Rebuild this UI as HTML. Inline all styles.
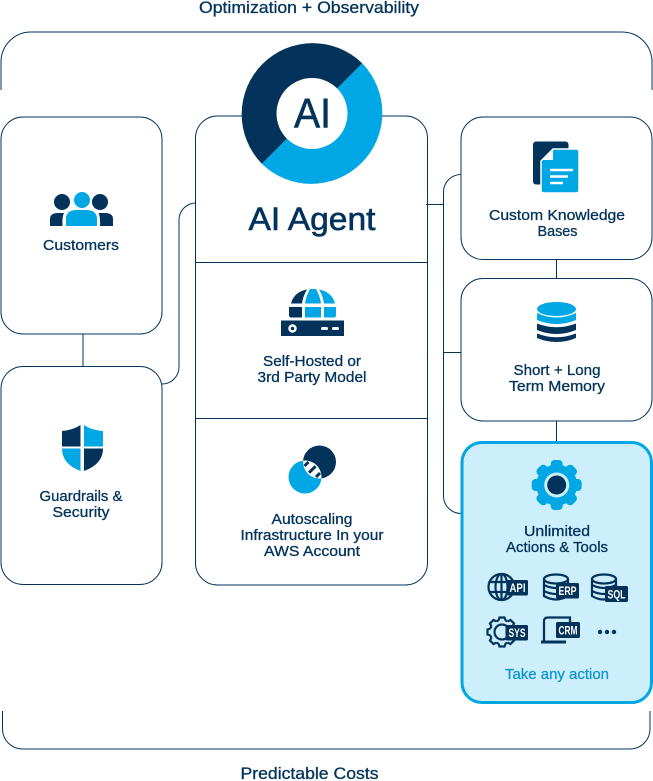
<!DOCTYPE html>
<html><head><meta charset="utf-8"><style>
html,body{margin:0;padding:0;background:#fff}
svg{display:block}
text{font-family:"Liberation Sans",sans-serif;fill:#03335b;stroke:#03335b;stroke-width:.3px;text-anchor:middle}
.t{font-size:14.5px}
.l{font-size:12px;font-weight:bold;fill:#fff;stroke:none}
</style></head><body>
<svg width="653" height="781" viewBox="0 0 653 781" xmlns="http://www.w3.org/2000/svg">
<g fill="none" stroke="#03335b" stroke-width="1">
<path d="M1 90V62A30 30 0 0 1 31 32H622A30 30 0 0 1 652 62V90"/>
<path d="M2.5 711V729A20 20 0 0 0 22.5 749H630A20 20 0 0 0 650 729V711"/>
<path d="M83 334V367"/>
<path d="M162 384A17 17 0 0 0 179 367V220A17 17 0 0 1 196 203"/>
<path d="M426 204.5H443.5M461 174.5A17.5 17.5 0 0 0 443.5 192V496A17.5 17.5 0 0 0 461 513.5M443.5 352.5H461"/>
<path d="M556.5 259V279M556.5 421V442"/>
<rect x="1" y="117" width="161" height="217" rx="22"/>
<rect x="1" y="366.5" width="161" height="218" rx="22"/>
<rect x="195.5" y="116" width="232" height="469" rx="22"/>
<path d="M195.5 262.5H427.5M195.5 418.5H427.5"/>
<rect x="461" y="117" width="191" height="142.5" rx="22"/>
<rect x="461" y="278.5" width="191" height="142.5" rx="22"/>
</g>
<rect x="462" y="442.5" width="189.5" height="260" rx="20" fill="#cdeefb" stroke="#00a7e5" stroke-width="3"/>

<!-- donut -->
<path d="M362.2 63.3A71 71 0 0 1 261.8 163.7L312 113.5Z" fill="#00a7e5"/>
<path d="M362.2 63.3A71 71 0 0 0 261.8 163.7L312 113.5Z" fill="#03335b"/>
<circle cx="312" cy="113.5" r="35.5" fill="#fff"/>
<text x="312.5" y="127.5" font-size="42" textLength="37" lengthAdjust="spacingAndGlyphs" style="stroke-width:.6px">AI</text>
<text x="312" y="230" font-size="32" textLength="127" lengthAdjust="spacingAndGlyphs" style="stroke-width:.6px">AI Agent</text>

<text x="309" y="13" font-size="16.5" textLength="220" lengthAdjust="spacingAndGlyphs">Optimization + Observability</text>
<text x="309.5" y="779" font-size="16.5" textLength="138" lengthAdjust="spacingAndGlyphs">Predictable Costs</text>

<!-- customers -->
<circle cx="62" cy="202" r="8" fill="#03335b"/><circle cx="100" cy="202" r="8" fill="#03335b"/>
<path d="M50 226V219Q50 213 58 213H64Q62 217 62.5 226Z" fill="#03335b"/>
<path d="M113 226V219Q113 213 105 213H98.5Q100.5 217 100 226Z" fill="#03335b"/>
<circle cx="82" cy="200" r="8" fill="#00a7e5"/>
<path d="M66 226V219Q66 210 77 210H86Q97 210 97 219V226Z" fill="#00a7e5"/>
<text class="t" x="81" y="250" textLength="76" lengthAdjust="spacingAndGlyphs">Customers</text>

<!-- shield -->
<path d="M62 431Q73 430 80.5 425V446.5H62Z" fill="#03335b"/>
<path d="M84 425Q91 430 103 431V446.5H84Z" fill="#00a7e5"/>
<path d="M62 448.5H80.5V471Q62 464 62 448.5Z" fill="#00a7e5"/>
<path d="M84 448.5H103Q103 464 84 471Z" fill="#03335b"/>
<text class="t" x="81" y="501" textLength="83" lengthAdjust="spacingAndGlyphs">Guardrails &amp;</text>
<text class="t" x="81" y="517" textLength="57" lengthAdjust="spacingAndGlyphs">Security</text>

<!-- server -->
<path d="M307 289.5Q294 292 291 303.5H302Q303 296 307 289.5Z" fill="#03335b"/>
<path d="M310 289H316Q320 296 321 303.5H305Q306 296 310 289Z" fill="#00a7e5"/>
<path d="M319 289.5Q332 292 335 303.5H324Q323 296 319 289.5Z" fill="#00a7e5"/>
<path d="M289 307H302V317.5H291Q289 317.5 289 315Z" fill="#03335b"/>
<rect x="305" y="307" width="16" height="10.5" fill="#00a7e5"/>
<path d="M324 307H336V315Q336 317.5 334 317.5H324Z" fill="#00a7e5"/>
<rect x="281" y="320.5" width="63" height="15.5" fill="#03335b"/>
<circle cx="292.5" cy="328.5" r="3" fill="none" stroke="#fff" stroke-width="2.5"/>
<rect x="321" y="327" width="7" height="3" rx="1.5" fill="#fff"/><rect x="332" y="327" width="7" height="3" rx="1.5" fill="#fff"/>
<text class="t" x="312" y="366" textLength="98" lengthAdjust="spacingAndGlyphs">Self-Hosted or</text>
<text class="t" x="312" y="382" textLength="109" lengthAdjust="spacingAndGlyphs">3rd Party Model</text>

<!-- autoscale -->
<circle cx="319.5" cy="462" r="16.5" fill="#03335b"/>
<circle cx="305" cy="477" r="16.5" fill="#00a7e5"/>
<path d="M303.1 460.6A16.5 16.5 0 0 1 321.4 478.4A16.5 16.5 0 0 1 303.1 460.6Z" fill="#fff"/>
<path d="M304.5 466L308.5 462M309 472.7L315.5 466.3M316 477L320 473" stroke="#03335b" stroke-width="3" fill="none"/>
<text class="t" x="312" y="524" textLength="81" lengthAdjust="spacingAndGlyphs">Autoscaling</text>
<text class="t" x="312" y="540" textLength="143" lengthAdjust="spacingAndGlyphs">Infrastructure In your</text>
<text class="t" x="312" y="556" textLength="96" lengthAdjust="spacingAndGlyphs">AWS Account</text>

<!-- docs -->
<rect x="533" y="141.5" width="35.5" height="43" rx="3" fill="#03335b"/>
<path d="M553 149H576Q579 149 579 152V190Q579 193 576 193H544Q541 193 541 190V161Z" fill="#00a7e5" stroke="#fff" stroke-width="1.5"/>
<path d="M543 160H553V150Z" fill="#fff"/>
<path d="M550 170H573M550 176.5H568M550 183H563" stroke="#fff" stroke-width="2.5" fill="none"/>
<text class="t" x="557" y="220" textLength="136" lengthAdjust="spacingAndGlyphs">Custom Knowledge</text>
<text class="t" x="557.5" y="236" textLength="40" lengthAdjust="spacingAndGlyphs">Bases</text>

<!-- db -->
<ellipse cx="556.5" cy="309" rx="19.5" ry="7" fill="#00a7e5"/>
<path d="M537 313Q556.5 322 576 313V320Q556.5 328 537 320Z" fill="#00a7e5"/>
<path d="M537 323.5Q556.5 331 576 323.5V330Q556.5 338 537 330Z" fill="#03335b"/>
<path d="M537 333.5Q556.5 341 576 333.5V338Q556.5 346 537 338Z" fill="#03335b"/>
<text class="t" x="557" y="375" textLength="87" lengthAdjust="spacingAndGlyphs">Short + Long</text>
<text class="t" x="557" y="391" textLength="96" lengthAdjust="spacingAndGlyphs">Term Memory</text>

<!-- gear -->
<g fill="#00a7e5">
<circle cx="556.7" cy="485" r="20.5"/>
<rect x="550.7" y="460" width="12" height="50" rx="4"/><rect x="550.7" y="460" width="12" height="50" rx="4" transform="rotate(45 556.7 485)"/><rect x="550.7" y="460" width="12" height="50" rx="4" transform="rotate(90 556.7 485)"/><rect x="550.7" y="460" width="12" height="50" rx="4" transform="rotate(135 556.7 485)"/>
</g>
<circle cx="556.7" cy="485" r="12.5" fill="#cdeefb"/><circle cx="556.7" cy="485" r="9.5" fill="#03335b"/>
<text class="t" x="557" y="536" textLength="66" lengthAdjust="spacingAndGlyphs">Unlimited</text>
<text class="t" x="557" y="552" textLength="102" lengthAdjust="spacingAndGlyphs">Actions &amp; Tools</text>

<!-- small icons -->
<g fill="none" stroke="#03335b" stroke-width="2.2">
<circle cx="501.5" cy="587" r="13"/><ellipse cx="501.5" cy="587" rx="6" ry="13"/><path d="M501.5 574V600M489 582H514M489 592H514"/>
<path d="M544 579V596Q556 603 568 596V579"/><ellipse cx="556" cy="579" rx="12" ry="4.5"/><path d="M544 585Q556 591 568 585M544 591Q556 597 568 591"/>
<path d="M592 579V596Q603 603 616 596V579"/><ellipse cx="604" cy="579" rx="12" ry="4.5"/><path d="M592 585Q604 591 616 585M592 591Q604 597 616 591"/>
<g transform="translate(502 632)">
<circle r="12" pathLength="360" stroke-dasharray="11.8 33.2" stroke-dashoffset="-16.6"/>
<circle r="7.5"/>
<path d="M-3.5 -11.5L-2.5 -14.5H2.5L3.5 -11.5"/>
<path d="M-3.5 -11.5L-2.5 -14.5H2.5L3.5 -11.5" transform="rotate(45)"/>
<path d="M-3.5 -11.5L-2.5 -14.5H2.5L3.5 -11.5" transform="rotate(90)"/>
<path d="M-3.5 -11.5L-2.5 -14.5H2.5L3.5 -11.5" transform="rotate(135)"/>
<path d="M-3.5 -11.5L-2.5 -14.5H2.5L3.5 -11.5" transform="rotate(180)"/>
<path d="M-3.5 -11.5L-2.5 -14.5H2.5L3.5 -11.5" transform="rotate(225)"/>
<path d="M-3.5 -11.5L-2.5 -14.5H2.5L3.5 -11.5" transform="rotate(270)"/>
<path d="M-3.5 -11.5L-2.5 -14.5H2.5L3.5 -11.5" transform="rotate(315)"/>
</g>
<path d="M544 641V621Q544 617.5 548 617.5H570V630"/>
<path d="M541 642H566" stroke-width="3"/>
</g>
<rect x="507" y="580" width="21" height="15.5" rx="1.5" fill="#03335b"/><text class="l" x="517.5" y="592" textLength="16" lengthAdjust="spacingAndGlyphs">API</text>
<rect x="556" y="583" width="23" height="15.5" rx="1.5" fill="#03335b"/><text class="l" x="567.5" y="595" textLength="18" lengthAdjust="spacingAndGlyphs">ERP</text>
<rect x="605" y="586" width="23" height="16" rx="1.5" fill="#03335b"/><text class="l" x="616.5" y="598.5" textLength="18" lengthAdjust="spacingAndGlyphs">SQL</text>
<rect x="505.5" y="625" width="22.5" height="15.5" rx="1.5" fill="#03335b"/><text class="l" x="517" y="637" textLength="17" lengthAdjust="spacingAndGlyphs">SYS</text>
<rect x="556" y="622" width="24" height="16" rx="1.5" fill="#03335b"/><text class="l" x="568" y="634.5" textLength="19" lengthAdjust="spacingAndGlyphs">CRM</text>
<circle cx="600" cy="632" r="2.2" fill="#03335b"/><circle cx="607" cy="632" r="2.2" fill="#03335b"/><circle cx="614" cy="632" r="2.2" fill="#03335b"/>
<text x="557" y="679" font-size="14.5" style="fill:#0f96d2;stroke:#0f96d2" textLength="104" lengthAdjust="spacingAndGlyphs">Take any action</text>
</svg>
</body></html>
